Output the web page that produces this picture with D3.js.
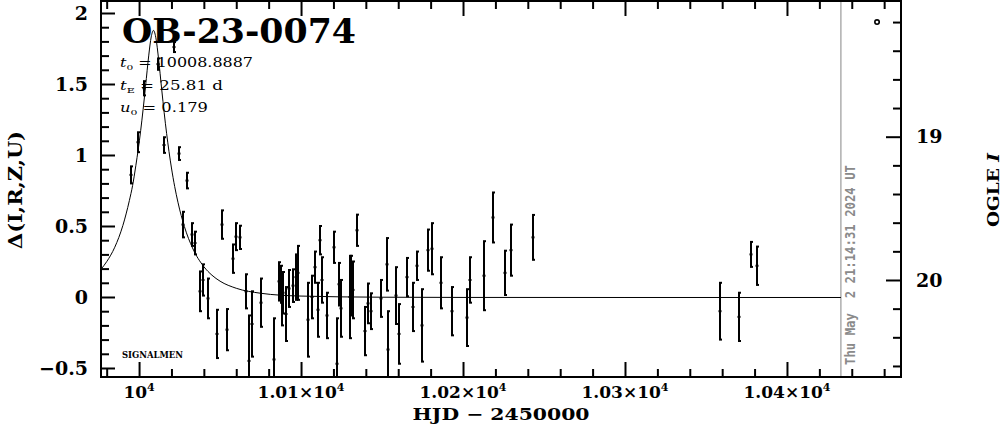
<!DOCTYPE html>
<html><head><meta charset="utf-8">
<script src="https://cdn.jsdelivr.net/npm/d3@7"></script>
<style>body{margin:0;background:#fff} svg{display:block}</style>
</head><body>
<svg id="chart" width="1004" height="434"></svg>
<script>
// ---- data ----
const hjd = [9994.9, 9999.6, 10002.8, 10011.9, 10015.4, 10021.6, 10024.7, 10027.2, 10029.8, 10032.5,
  10034.6, 10037.7, 10039.7, 10042.3, 10048.3, 10051.4, 10054.5, 10057.8, 10059.7, 10062.5,
  10065.9, 10067.6, 10069.6, 10075.3, 10083.3, 10086.4, 10087.5, 10088.1, 10089.1, 10090.7,
  10092.6, 10095.2, 10096.9, 10098.3, 10104.5, 10106.6, 10108.5, 10110.3, 10111.7, 10113.1,
  10116.2, 10120.4, 10122.0, 10123.5, 10124.9, 10130.2, 10131.0, 10131.9, 10134.4, 10139.5,
  10141.5, 10143.4, 10149.4, 10153.3, 10153.5, 10158.5, 10160.5, 10165.4, 10169.3, 10171.3,
  10174.4, 10178.6, 10180.7, 10186.4, 10193.4, 10202.3, 10204.3, 10213.0, 10218.3, 10226.1,
  10229.4, 10243.4, 10358.6, 10370.6, 10377.8, 10381.7];
const delta = [0.86, 1.09, 1.47, 1.64, 1.07, 1.76, 1.01, 0.51, 0.82, 0.44,
  0.38, 0.04, 0.12, -0.01, -0.26, 0.51, -0.23, 0.27, 0.425, 0.42,
  0.04, -0.45, -0.19, -0.04, -0.44, 0.11, 0.09, -0.04, 0.03, -0.12,
  0.06, 0.08, 0.14, 0.17, -0.16, 0.0, 0.21, -0.09, 0.40, 0.12,
  -0.13, 0.35, -0.47, 0.09, -0.08, 0.0, 0.08, 0.05, 0.47, -0.24,
  -0.045, -0.10, -0.01, 0.23, -0.37, 0.01, -0.26, 0.14, -0.07, 0.22,
  -0.20, 0.33, 0.34, 0.10, -0.10, -0.145, 0.12, 0.15, 0.56, 0.17,
  0.33, 0.42, -0.10, -0.14, 0.30, 0.22];
const deltaErr = [0.06, 0.07, 0.05, 0.04, 0.055, 0.035, 0.045, 0.09, 0.055, 0.08,
  0.08, 0.14, 0.11, 0.14, 0.17, 0.10, 0.145, 0.10, 0.095, 0.082,
  0.12, 0.32, 0.23, 0.17, 0.29, 0.135, 0.13, 0.16, 0.146, 0.19,
  0.13, 0.115, 0.16, 0.19, 0.26, 0.15, 0.11, 0.19, 0.10, 0.16,
  0.16, 0.11, 0.32, 0.15, 0.20, 0.29, 0.21, 0.20, 0.11, 0.17,
  0.14, 0.126, 0.13, 0.185, 0.27, 0.20, 0.21, 0.135, 0.17, 0.10,
  0.255, 0.145, 0.18, 0.18, 0.17, 0.20, 0.16, 0.243, 0.176, 0.156,
  0.18, 0.158, 0.20, 0.17, 0.088, 0.135];

// model light curve, sampled off the drawn curve
const modelHjd = [9976.5, 9980, 9985, 9990, 9994, 9996, 9998, 10001, 10002.5, 10004, 10006, 10007.5,
  10008.9, 10010.5, 10012, 10014, 10015.5, 10017, 10020, 10022, 10024, 10028, 10033, 10040, 10045,
  10050, 10060, 10075, 10100, 10150, 10200, 10300, 10433.3];
const modelDelta = [0.199, 0.252, 0.354, 0.507, 0.682, 0.788, 0.928, 1.176, 1.325, 1.487, 1.707, 1.835,
  1.881, 1.820, 1.684, 1.463, 1.302, 1.156, 0.912, 0.781, 0.671, 0.499, 0.349, 0.217, 0.157,
  0.115, 0.065, 0.030, 0.010, 0.002, 0.0005, 0, 0];

const baseHjd = [10455.6];
const baseMag = [18.2];
const nowHjd = 10433.3;

const yTickValues = [-0.5, 0, 0.5, 1, 1.5, 2];
const yTickLabels = ["\u22120.5", "0", "0.5", "1", "1.5", "2"];
const xTickValues = [10000, 10100, 10200, 10300, 10400];
const xTickMantissas = ["", "1.01\u00d7", "1.02\u00d7", "1.03\u00d7", "1.04\u00d7"];
const magTickValues = [19, 20];
const magTickLabels = ["19", "20"];

const eventName = "OB-23-0074";
const t0Text = "10008.8887", tEText = "25.81 d", u0Text = "0.179";
const stamp = "Thu May  2 21:14:31 2024 UT";

// ---- layout ----
const L = 101, R = 901, T = 1, B = 377;
const svg = d3.select("#chart");
const x = d3.scaleLinear().domain([9976.5, 10470.4]).range([L, R]);
const y = d3.scaleLinear().domain([-0.5634, 2.0845]).range([B, T]);
const mag = d3.scaleLinear().domain([18.053, 20.677]).range([T, B]);

const serif = "'DejaVu Serif', serif";

svg.append("defs").append("clipPath").attr("id", "clip")
  .append("rect").attr("x", L).attr("y", T).attr("width", R - L).attr("height", B - T);

function styleAxis(g, sw) {
  g.select(".domain").remove();
  g.selectAll(".tick line").attr("stroke", "#000").attr("stroke-width", sw);
}

// left axis majors + minors
svg.append("g").attr("transform", `translate(${L},0)`)
  .call(d3.axisLeft(y).tickValues(yTickValues).tickSize(-14).tickPadding(13)
    .tickFormat((d, i) => yTickLabels[i]))
  .call(g => styleAxis(g, 2))
  .call(g => g.selectAll("text").attr("font-family", serif).attr("font-weight", "bold")
    .attr("font-size", 19).attr("fill", "#000"));
const yMinor = d3.range(-5, 21).map(i => i / 10).filter(v => Math.abs(v * 2 - Math.round(v * 2)) > 1e-6);
svg.append("g").attr("transform", `translate(${L},0)`)
  .call(d3.axisLeft(y).tickValues(yMinor).tickSize(-8).tickFormat(""))
  .call(g => styleAxis(g, 2));

// bottom & top axes
const xMinor = d3.range(9980, 10470, 20).filter(v => v % 100 !== 0);
svg.append("g").attr("transform", `translate(0,${B})`)
  .call(d3.axisBottom(x).tickValues(xTickValues).tickSize(-15).tickFormat(""))
  .call(g => styleAxis(g, 2));
svg.append("g").attr("transform", `translate(0,${B})`)
  .call(d3.axisBottom(x).tickValues(xMinor).tickSize(-8).tickFormat(""))
  .call(g => styleAxis(g, 2));
svg.append("g").attr("transform", `translate(0,${T})`)
  .call(d3.axisTop(x).tickValues(xTickValues).tickSize(-15).tickFormat(""))
  .call(g => styleAxis(g, 2));
svg.append("g").attr("transform", `translate(0,${T})`)
  .call(d3.axisTop(x).tickValues(xMinor).tickSize(-8).tickFormat(""))
  .call(g => styleAxis(g, 2));

// bottom tick labels with superscript
const xl = svg.append("g").attr("font-family", serif).attr("font-weight", "bold").attr("font-size", 17);
xTickValues.forEach((v, i) => {
  const t = xl.append("text").attr("x", x(v)).attr("y", 398).attr("text-anchor", "middle");
  t.append("tspan").text(xTickMantissas[i] + "10");
  t.append("tspan").attr("dy", -7).attr("font-size", 11).text("4");
});
svg.append("text").attr("x", (L + R) / 2).attr("y", 420).attr("text-anchor", "middle")
  .attr("font-family", serif).attr("font-weight", "bold").attr("font-size", 17)
  .attr("textLength", 177).attr("lengthAdjust", "spacingAndGlyphs")
  .style("white-space", "pre").text("HJD \u2212 2450000");

// right axis (OGLE I mag)
svg.append("g").attr("transform", `translate(${R},0)`)
  .call(d3.axisRight(mag).tickValues(magTickValues).tickSize(-15).tickPadding(15)
    .tickFormat((d, i) => magTickLabels[i]))
  .call(g => styleAxis(g, 2))
  .call(g => g.selectAll("text").attr("font-family", serif).attr("font-weight", "bold")
    .attr("font-size", 19).attr("fill", "#000"));
const magMinor = d3.range(91, 104).map(i => i / 5).filter(v => Math.abs(v - Math.round(v)) > 1e-6 && v < 20.677);
svg.append("g").attr("transform", `translate(${R},0)`)
  .call(d3.axisRight(mag).tickValues(magMinor).tickSize(-8).tickFormat(""))
  .call(g => styleAxis(g, 2));

// axis titles
svg.append("text").attr("transform", "translate(22,190) rotate(-90)").attr("text-anchor", "middle")
  .attr("font-family", serif).attr("font-weight", "bold").attr("font-size", 19)
  .attr("textLength", 118).attr("lengthAdjust", "spacingAndGlyphs").text("\u0394(I,R,Z,U)");
const og = svg.append("text").attr("transform", "translate(999,190) rotate(-90)").attr("text-anchor", "middle")
  .attr("font-family", serif).attr("font-weight", "bold").attr("font-size", 17)
  .attr("textLength", 74).attr("lengthAdjust", "spacingAndGlyphs").style("white-space", "pre");
og.append("tspan").text("OGLE ");
og.append("tspan").attr("font-style", "italic").text("I");

// gray "now" line and timestamp
svg.append("line").attr("x1", x(nowHjd)).attr("x2", x(nowHjd)).attr("y1", T).attr("y2", B)
  .attr("stroke", "#999").attr("stroke-width", 1.2);
svg.append("text").attr("transform", `translate(855,365) rotate(-90)`)
  .attr("font-family", "'DejaVu Sans Mono', monospace").attr("font-weight", "bold").attr("font-size", 14)
  .attr("fill", "#8a8a8a").attr("textLength", 200).attr("lengthAdjust", "spacingAndGlyphs")
  .style("white-space", "pre").text(stamp);

// plot content
const plot = svg.append("g").attr("clip-path", "url(#clip)");
const line = d3.line().x(d => x(d[0])).y(d => y(d[1]) + 0.5).curve(d3.curveMonotoneX);
plot.append("path").datum(modelHjd.map((t, i) => [t, modelDelta[i]]))
  .attr("d", line).attr("fill", "none").attr("stroke", "#000").attr("stroke-width", 1);

const pts = hjd.map((t, i) => ({ t, d: delta[i], e: deltaErr[i] }));
const eb = plot.append("g").attr("stroke", "#000").attr("stroke-width", 2);
pts.forEach(p => {
  const px = Math.round(x(p.t));
  const y1 = y(p.d + p.e), y2 = y(p.d - p.e);
  eb.append("line").attr("x1", px).attr("x2", px).attr("y1", y1).attr("y2", y2);
  eb.append("line").attr("x1", px - 1).attr("x2", px + 2).attr("y1", y1).attr("y2", y1);
  eb.append("line").attr("x1", px - 1).attr("x2", px + 2).attr("y1", y2).attr("y2", y2);
  eb.append("line").attr("x1", px - 1.5).attr("x2", px + 1.5).attr("y1", y(p.d)).attr("y2", y(p.d));
});

plot.selectAll("circle.base").data(baseHjd).enter().append("circle")
  .attr("cx", d => x(d)).attr("cy", (d, i) => mag(baseMag[i])).attr("r", 2.2)
  .attr("fill", "none").attr("stroke", "#000").attr("stroke-width", 1.6);

// frame
svg.append("rect").attr("x", L).attr("y", T).attr("width", R - L).attr("height", B - T)
  .attr("fill", "none").attr("stroke", "#000").attr("stroke-width", 2);

// title and parameters
svg.append("text").attr("x", 122).attr("y", 43).attr("font-family", serif).attr("font-weight", "bold")
  .attr("font-size", 34).attr("textLength", 234).attr("lengthAdjust", "spacingAndGlyphs").text(eventName);

function paramLine(yb, sym, sub, val, len) {
  const t = svg.append("text").attr("x", 120).attr("y", yb).attr("font-family", serif)
    .attr("font-size", 12).attr("textLength", len).attr("lengthAdjust", "spacingAndGlyphs")
    .style("white-space", "pre");
  t.append("tspan").attr("font-style", "italic").text(sym);
  t.append("tspan").attr("dy", 3).attr("font-size", 8).text(sub);
  t.append("tspan").attr("dy", -3).text(" = " + val);
}
paramLine(66.5, "t", "0", t0Text, 133);
paramLine(90, "t", "E", tEText, 103);
paramLine(111.5, "u", "0", u0Text, 88);

svg.append("text").attr("x", 122).attr("y", 358).attr("font-family", serif).attr("font-weight", "bold")
  .attr("font-size", 8.5).attr("textLength", 61).attr("lengthAdjust", "spacingAndGlyphs").text("SIGNALMEN");
</script>
</body></html>
